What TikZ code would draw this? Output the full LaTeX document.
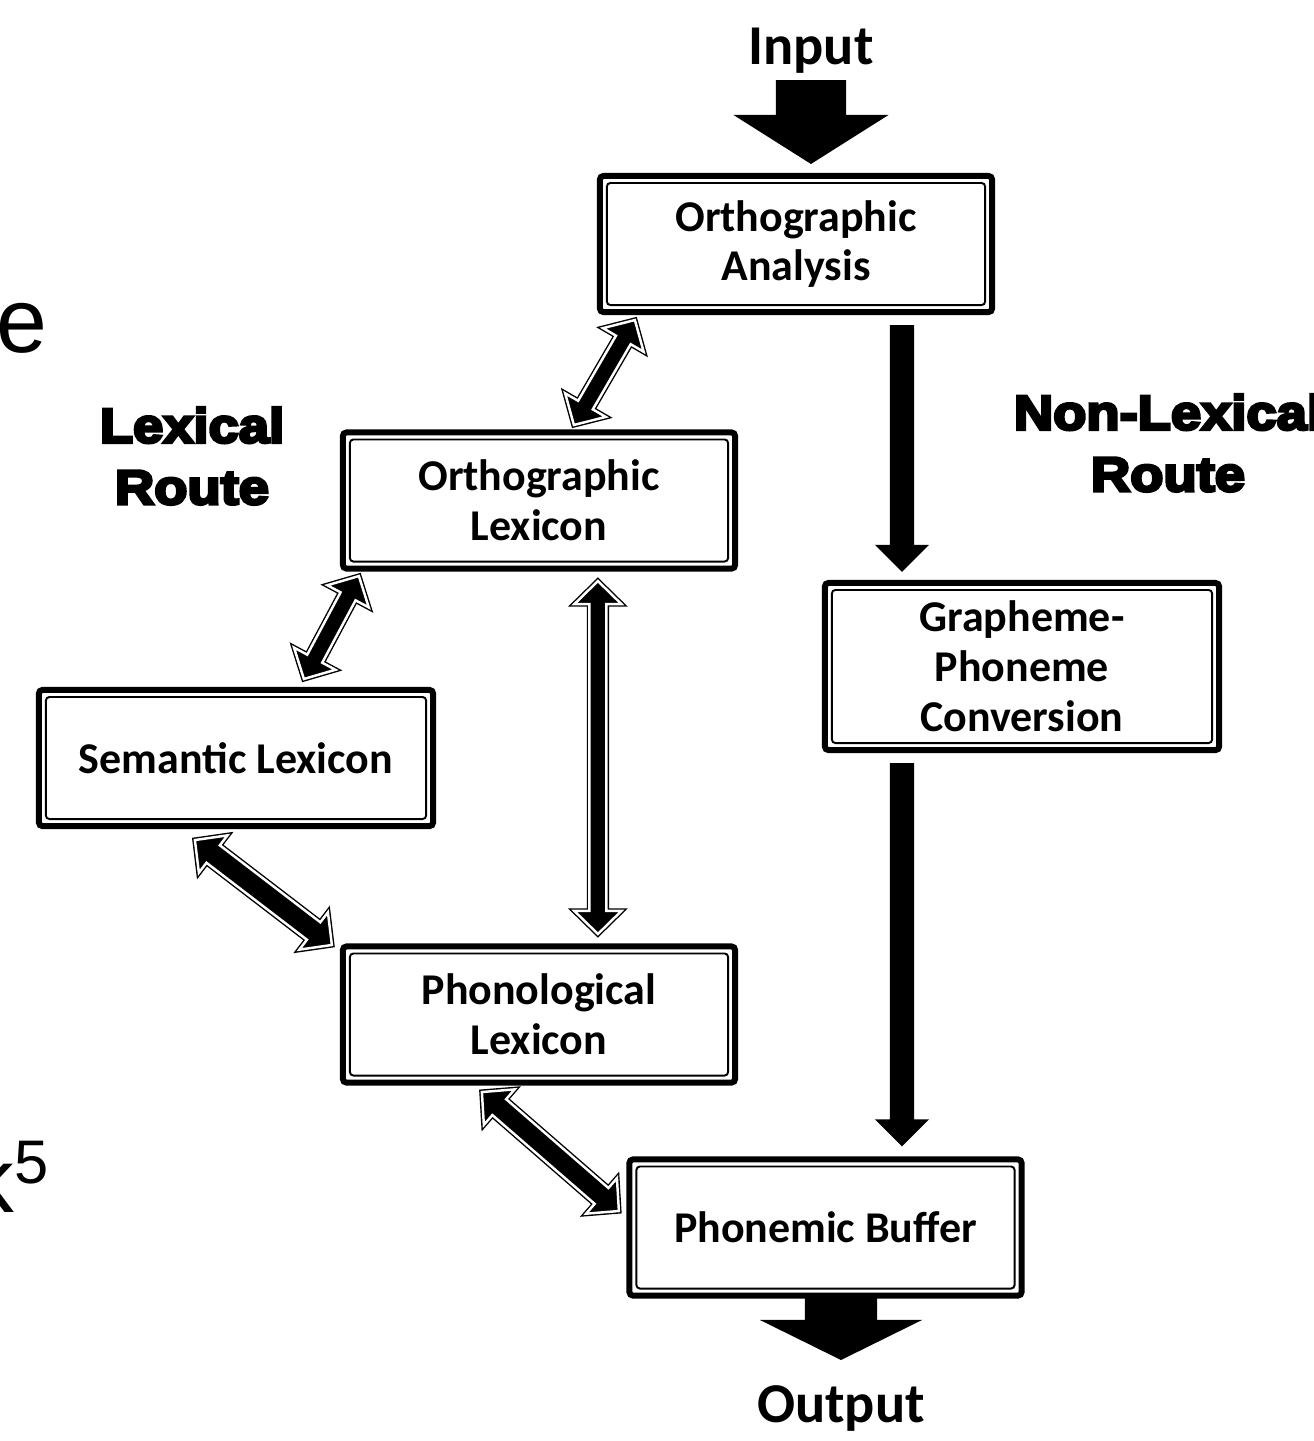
\documentclass[tikz,border=0pt]{standalone}
\usepackage{fontspec}
\setmainfont{Carlito}
\newfontfamily\heavyfont{Liberation Sans}[BoldFeatures={FakeBold=6,FakeStretch=1.12}]
\newfontfamily\slidefont{Liberation Sans}
\usetikzlibrary{calc}

% block arrow with a head at both ends: shaft half-width, end, end
\newcommand{\twowayarrow}[3]{%
  \path[twoway] (#2)
    -- ($(#2)!0.23cm!(#3)!0.235cm!90:(#3)$)
    -- ($(#2)!0.23cm!(#3)!#1!90:(#3)$)
    -- ($(#3)!0.23cm!(#2)!#1!-90:(#2)$)
    -- ($(#3)!0.23cm!(#2)!0.235cm!-90:(#2)$)
    -- (#3)
    -- ($(#3)!0.23cm!(#2)!0.235cm!90:(#2)$)
    -- ($(#3)!0.23cm!(#2)!#1!90:(#2)$)
    -- ($(#2)!0.23cm!(#3)!#1!-90:(#3)$)
    -- ($(#2)!0.23cm!(#3)!0.235cm!-90:(#3)$)
    -- cycle;}
% solid block arrow: shaft half-width, head half-width, head length, from, to
\newcommand{\onewayarrow}[5]{%
  \path[oneway] ($(#4)!#1!90:(#5)$)
    -- ($(#5)!#3!(#4)!#1!-90:(#4)$)
    -- ($(#5)!#3!(#4)!#2!-90:(#4)$)
    -- (#5)
    -- ($(#5)!#3!(#4)!#2!90:(#4)$)
    -- ($(#5)!#3!(#4)!#1!90:(#4)$)
    -- ($(#4)!#1!-90:(#5)$)
    -- cycle;}

\begin{document}
\begin{tikzpicture}[
    x=0.01cm, y=-0.01cm,
    box/.style={
      draw, line width=1.7pt, rounded corners=1pt, fill=white,
      minimum width=3.92cm, minimum height=1.36cm, inner sep=0pt,
      align=center, font=\bfseries\fontsize{12.5}{14.2}\selectfont,
      path picture={\draw[line width=0.55pt]
        ([shift={(0.07cm,0.07cm)}]path picture bounding box.south west) rectangle
        ([shift={(-0.07cm,-0.07cm)}]path picture bounding box.north east);}
    },
    twoway/.style={fill=black, draw=white, line width=0.7pt, line join=miter,
      preaction={draw=black, line width=1.5pt, line join=miter}},
    oneway/.style={fill=black},
    route/.style={font=\heavyfont\bfseries\fontsize{13.8}{17.5}\selectfont,
      align=center, inner sep=0pt},
    io/.style={font=\bfseries\fontsize{16}{19}\selectfont, inner sep=0pt, anchor=base}
  ]
  \useasboundingbox (0,0) rectangle (1314,1441);
  \clip (0,0) rectangle (1314,1441);

  % leftovers of the slide text
  \node[font=\slidefont\fontsize{26}{30}\selectfont, anchor=base west, inner sep=0pt]
    (sle) at (-4,352) {e};
  \node[font=\slidefont\fontsize{26}{30}\selectfont, anchor=base west, inner sep=0pt]
    (slk) at (-32,1212) {k\raisebox{0.29cm}{\fontsize{17.5}{20}\selectfont 5}};

  \node[box] (oa) at (796,244) {Orthographic\\Analysis};
  \node[box] (ol) at (539,500.5) {Orthographic\\Lexicon};
  \node[box, minimum width=3.94cm] (sl) at (236,758) {Semantic Lexicon};
  \node[box] (pl) at (539,1014.5) {Phonological\\Lexicon};
  \node[box, minimum width=3.94cm, minimum height=1.67cm] (gpc) at (1022,666.5)
    {Grapheme-\\Phoneme\\Conversion};
  \node[box] (pb) at (825.5,1227.5) {Phonemic Buffer};

  \node[route] (lex) at (192,456) {Lexical\\Route};
  \node[route] (nonlex) at (1168,443) {Non-Lexical\\Route};

  \node[io] (inp) at (811,64) {Input};
  \node[io] (outp) at (841,1422) {Output};

  % input / output
  \coordinate (in0) at ($(inp.base)+(0,16)$);
  \coordinate (in1) at ($(oa.north)+(15,-9)$);
  \onewayarrow{0.35cm}{0.775cm}{0.49cm}{in0}{in1}
  \coordinate (out0) at ($(pb.south)+(15.5,-3)$);
  \coordinate (out1) at ($(outp.base)+(0,-62)$);
  \onewayarrow{0.36cm}{0.81cm}{0.40cm}{out0}{out1}

  % non-lexical route
  \coordinate (nl0) at ($(oa.south)+(106,10)$);
  \coordinate (nl1) at ($(gpc.north)+(-120,-8)$);
  \coordinate (nl2) at ($(gpc.south)+(-120,10)$);
  \coordinate (nl3) at ($(pb.north)+(76.5,-10)$);
  \onewayarrow{0.12cm}{0.27cm}{0.27cm}{nl0}{nl1}
  \onewayarrow{0.12cm}{0.27cm}{0.27cm}{nl2}{nl3}

  % lexical route
  \coordinate (a1) at ($(oa.south west)+(38,5)$);
  \coordinate (b1) at ($(ol.north west)+(234,-4.5)$);
  \coordinate (a2) at ($(ol.south west)+(19,4.5)$);
  \coordinate (b2) at ($(sl.north west)+(268,-8)$);
  \coordinate (a3) at ($(sl.south west)+(159,11)$);
  \coordinate (b3) at ($(pl.north west)+(-8,1.5)$);
  \coordinate (a4) at ($(ol.south west)+(258,9.5)$);
  \coordinate (b4) at ($(pl.north west)+(258,-9.5)$);
  \coordinate (a5) at ($(pl.south west)+(142,6.5)$);
  \coordinate (b5) at ($(pb.west)+(-7.5,-16.5)$);
  \twowayarrow{0.085cm}{a1}{b1}
  \twowayarrow{0.085cm}{a2}{b2}
  \twowayarrow{0.11cm}{a3}{b3}
  \twowayarrow{0.085cm}{a4}{b4}
  \twowayarrow{0.105cm}{a5}{b5}
\end{tikzpicture}
\end{document}
